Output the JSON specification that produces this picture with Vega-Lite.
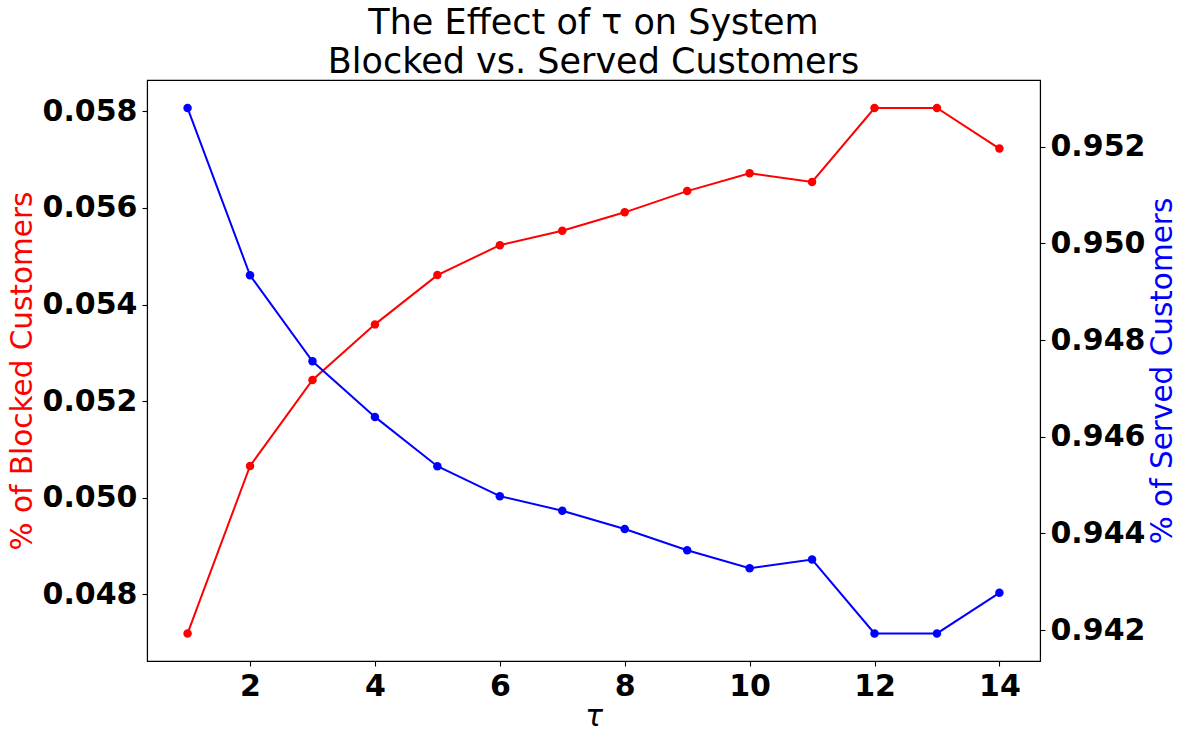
{
  "$schema": "https://vega.github.io/schema/vega-lite/v6.json",
  "autosize": {"type": "none"},
  "padding": {"left": 147, "top": 80, "right": 143, "bottom": 70},
  "width": 893,
  "height": 581,
  "background": "white",
  "config": {
    "font": "DejaVu Sans",
    "view": {"stroke": "black", "strokeWidth": 1.1},
    "axis": {
      "grid": false,
      "domainColor": "black",
      "domainWidth": 1.1,
      "tickColor": "black",
      "tickWidth": 1.1,
      "tickSize": 5,
      "labelPadding": 5,
      "labelFont": "DejaVu Sans",
      "labelFontSize": 30,
      "labelFontWeight": "bold",
      "labelColor": "black",
      "titleFont": "DejaVu Sans",
      "titleFontSize": 29.5,
      "titleFontWeight": "normal"
    }
  },
  "title": {
    "text": ["The Effect of τ on System", "Blocked vs. Served Customers"],
    "font": "DejaVu Sans",
    "fontSize": 35,
    "fontWeight": "normal",
    "color": "black",
    "lineHeight": 39,
    "anchor": "middle",
    "offset": 0
  },
  "data": {
    "values": [
      {"tau": 1, "blocked": 0.04719, "served": 0.95280},
      {"tau": 2, "blocked": 0.05066, "served": 0.94934},
      {"tau": 3, "blocked": 0.05244, "served": 0.94756},
      {"tau": 4, "blocked": 0.05359, "served": 0.94641},
      {"tau": 5, "blocked": 0.05461, "served": 0.94539},
      {"tau": 6, "blocked": 0.05523, "served": 0.94477},
      {"tau": 7, "blocked": 0.05553, "served": 0.94447},
      {"tau": 8, "blocked": 0.05591, "served": 0.94409},
      {"tau": 9, "blocked": 0.05635, "served": 0.94365},
      {"tau": 10, "blocked": 0.05672, "served": 0.94328},
      {"tau": 11, "blocked": 0.05654, "served": 0.94346},
      {"tau": 12, "blocked": 0.05807, "served": 0.94193},
      {"tau": 13, "blocked": 0.05807, "served": 0.94193},
      {"tau": 14, "blocked": 0.05723, "served": 0.94277}
    ]
  },
  "encoding": {
    "x": {
      "field": "tau",
      "type": "quantitative",
      "scale": {"domain": [0.35, 14.65], "nice": false, "zero": false},
      "axis": {
        "values": [2, 4, 6, 8, 10, 12, 14],
        "format": "d",
        "title": "τ",
        "titleFontStyle": "italic",
        "titlePadding": 1
      }
    }
  },
  "layer": [
    {
      "encoding": {
        "y": {
          "field": "blocked",
          "type": "quantitative",
          "scale": {"domain": [0.04662, 0.05865], "nice": false, "zero": false},
          "axis": {
            "orient": "left",
            "values": [0.048, 0.05, 0.052, 0.054, 0.056, 0.058],
            "format": ".3f",
            "title": "% of Blocked Customers",
            "titleColor": "#ff0000",
            "titlePadding": 5
          }
        }
      },
      "layer": [
        {"mark": {"type": "line", "color": "#ff0000", "strokeWidth": 2}},
        {"mark": {"type": "point", "filled": true, "opacity": 1, "color": "#ff0000", "size": 72}}
      ]
    },
    {
      "encoding": {
        "y": {
          "field": "served",
          "type": "quantitative",
          "scale": {"domain": [0.94136, 0.95338], "nice": false, "zero": false},
          "axis": {
            "orient": "right",
            "values": [0.942, 0.944, 0.946, 0.948, 0.95, 0.952],
            "format": ".3f",
            "title": "% of Served Customers",
            "titleColor": "#0000ff",
            "titleAngle": 270,
            "titleBaseline": "top",
            "titlePadding": 4
          }
        }
      },
      "layer": [
        {"mark": {"type": "line", "color": "#0000ff", "strokeWidth": 2}},
        {"mark": {"type": "point", "filled": true, "opacity": 1, "color": "#0000ff", "size": 72}}
      ]
    }
  ],
  "resolve": {"scale": {"y": "independent"}}
}
